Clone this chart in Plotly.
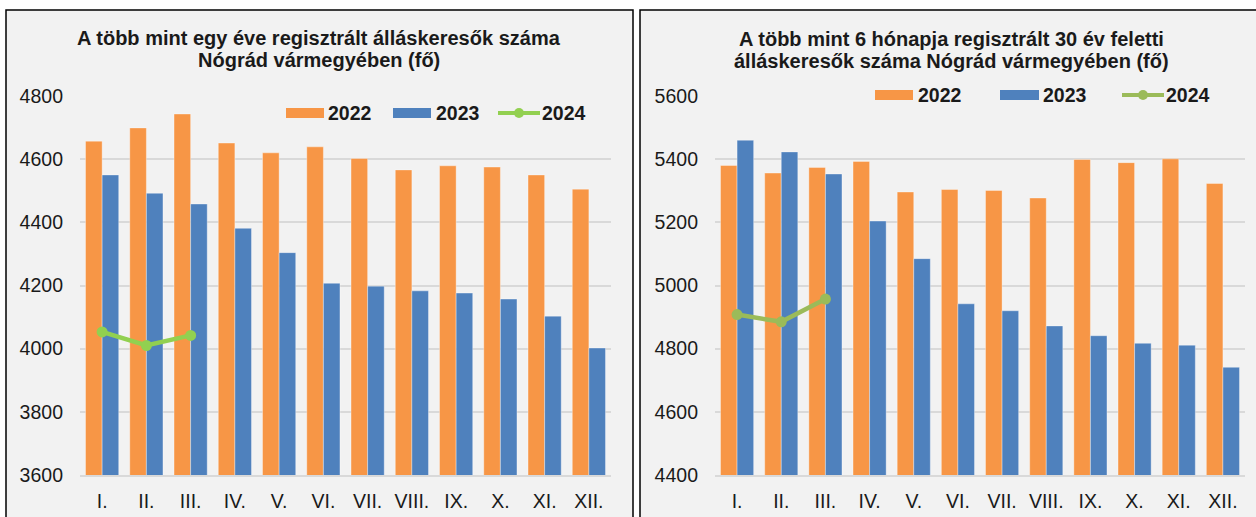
import plotly.graph_objects as go

months = ["I.", "II.", "III.", "IV.", "V.", "VI.", "VII.", "VIII.", "IX.", "X.", "XI.", "XII."]
months_2024 = ["I.", "II.", "III."]
series_names = ["2022", "2023", "2024"]

left_2022 = [4657, 4699, 4743, 4651, 4620, 4639, 4602, 4566, 4579, 4575, 4550, 4505]
left_2023 = [4550, 4492, 4458, 4381, 4304, 4207, 4198, 4183, 4176, 4157, 4103, 4002]
left_2024 = [4053, 4010, 4042]

right_2022 = [5380, 5356, 5374, 5393, 5296, 5304, 5301, 5277, 5399, 5389, 5401, 5323]
right_2023 = [5460, 5423, 5353, 5204, 5085, 4942, 4920, 4872, 4841, 4817, 4811, 4741]
right_2024 = [4908, 4885, 4957]

left_title = ["A több mint egy éve regisztrált álláskeresők száma", "Nógrád vármegyében (fő)"]
right_title = ["A több mint 6 hónapja regisztrált 30 év feletti", "álláskeresők száma Nógrád vármegyében (fő)"]

left_range = [3600, 4800]
right_range = [4400, 5600]
ytick_step = 200

W, H = 1256, 517
ORANGE = "#F79646"
BLUE = "#4F81BD"
GREEN_L = "#92D050"
GREEN_R = "#9BBB59"
BG = "#F2F2F2"
GRID = "#D9D9D9"
TXT = "#1a1a1a"
FONT = "Liberation Sans, Arial, sans-serif"


def px(x):
    return x / W


def py(y):
    return 1 - y / H


fig = go.Figure()

# left chart
fig.add_trace(go.Bar(x=months, y=left_2022, name=series_names[0], marker_color=ORANGE,
                     marker_line=dict(color="rgba(255,255,255,0.35)", width=1),
                     xaxis="x", yaxis="y", showlegend=False))
fig.add_trace(go.Bar(x=months, y=left_2023, name=series_names[1], marker_color=BLUE,
                     marker_line=dict(color="rgba(255,255,255,0.35)", width=1),
                     xaxis="x", yaxis="y", showlegend=False))
fig.add_trace(go.Scatter(x=months_2024, y=left_2024, name=series_names[2], mode="lines+markers",
                         line=dict(color=GREEN_L, width=4.5), marker=dict(size=11, color=GREEN_L),
                         xaxis="x", yaxis="y", showlegend=False))
# right chart
fig.add_trace(go.Bar(x=months, y=right_2022, name=series_names[0], marker_color=ORANGE,
                     marker_line=dict(color="rgba(255,255,255,0.35)", width=1),
                     xaxis="x2", yaxis="y2", showlegend=False))
fig.add_trace(go.Bar(x=months, y=right_2023, name=series_names[1], marker_color=BLUE,
                     marker_line=dict(color="rgba(255,255,255,0.35)", width=1),
                     xaxis="x2", yaxis="y2", showlegend=False))
fig.add_trace(go.Scatter(x=months_2024, y=right_2024, name=series_names[2], mode="lines+markers",
                         line=dict(color=GREEN_R, width=4.5), marker=dict(size=11, color=GREEN_R),
                         xaxis="x2", yaxis="y2", showlegend=False))

ydom = [py(475), py(96)]
xcommon = dict(showgrid=False, showline=True, linecolor=GRID, linewidth=1.5,
               tickfont=dict(family=FONT, size=19.5, color=TXT), ticks="",
               ticklabelstandoff=8, fixedrange=True, automargin=False,
               range=[-0.5, len(months) - 0.5], autorange=False)
ycommon = dict(showgrid=True, gridcolor=GRID, gridwidth=1.5, zeroline=False, showline=False,
               tickfont=dict(family=FONT, size=19.5, color=TXT), ticks="",
               ticklabelstandoff=16, dtick=ytick_step, fixedrange=True, automargin=False)

shapes = [
    dict(type="rect", xref="paper", yref="paper", x0=px(6), x1=px(633), y0=-0.05, y1=py(10),
         line=dict(color="black", width=1.5), fillcolor=BG, layer="below"),
    dict(type="rect", xref="paper", yref="paper", x0=px(640), x1=1.05, y0=-0.05, y1=py(10),
         line=dict(color="black", width=1.5), fillcolor=BG, layer="below"),
]

annotations = []
# titles
for t, yy in zip(left_title, [38, 60]):
    annotations.append(dict(text=f"<b>{t}</b>", x=px(319), y=py(yy), xref="paper", yref="paper",
                            showarrow=False, xanchor="center", yanchor="middle",
                            font=dict(family=FONT, size=20, color=TXT)))
for t, yy in zip(right_title, [39, 61]):
    annotations.append(dict(text=f"<b>{t}</b>", x=px(951), y=py(yy), xref="paper", yref="paper",
                            showarrow=False, xanchor="center", yanchor="middle",
                            font=dict(family=FONT, size=20, color=TXT)))


def legend(yc, xs, colors, kinds):
    for (x0, x1, tx), col, kind, name in zip(xs, colors, kinds, series_names):
        if kind == "bar":
            shapes.append(dict(type="rect", xref="paper", yref="paper", x0=px(x0), x1=px(x1),
                               y0=py(yc + 5), y1=py(yc - 5), fillcolor=col, line=dict(width=0)))
        else:
            shapes.append(dict(type="line", xref="paper", yref="paper", x0=px(x0), x1=px(x1),
                               y0=py(yc), y1=py(yc), line=dict(color=col, width=4)))
            xm = (x0 + x1) / 2
            shapes.append(dict(type="circle", xref="paper", yref="paper", x0=px(xm - 5), x1=px(xm + 5),
                               y0=py(yc + 5), y1=py(yc - 5), fillcolor=col, line=dict(width=0)))
        annotations.append(dict(text=f"<b>{name}</b>", x=px(tx), y=py(yc), xref="paper", yref="paper",
                                showarrow=False, xanchor="left", yanchor="middle",
                                font=dict(family=FONT, size=19.5, color=TXT)))


legend(113, [(286, 324, 326), (393, 431, 434), (498, 540, 540)],
       [ORANGE, BLUE, GREEN_L], ["bar", "bar", "line"])
legend(95, [(875, 913, 916), (1000, 1039, 1041), (1122, 1164, 1164)],
       [ORANGE, BLUE, GREEN_R], ["bar", "bar", "line"])

fig.update_layout(
    width=W, height=H,
    margin=dict(l=0, r=0, t=0, b=0, pad=0, autoexpand=False),
    paper_bgcolor="white",
    plot_bgcolor=BG,
    barmode="group", bargap=0.25, bargroupgap=0,
    showlegend=False,
    xaxis=dict(domain=[px(80), px(611)], anchor="y", **xcommon),
    yaxis=dict(domain=ydom, range=left_range, anchor="x", **ycommon),
    xaxis2=dict(domain=[px(715), px(1245)], anchor="y2", **xcommon),
    yaxis2=dict(domain=ydom, range=right_range, anchor="x2", **ycommon),
    shapes=shapes,
    annotations=annotations,
)

fig.write_html(
    "out.html",
    config={"displayModeBar": False},
    post_script="document.body.style.margin='0';document.body.style.overflow='hidden';",
)
